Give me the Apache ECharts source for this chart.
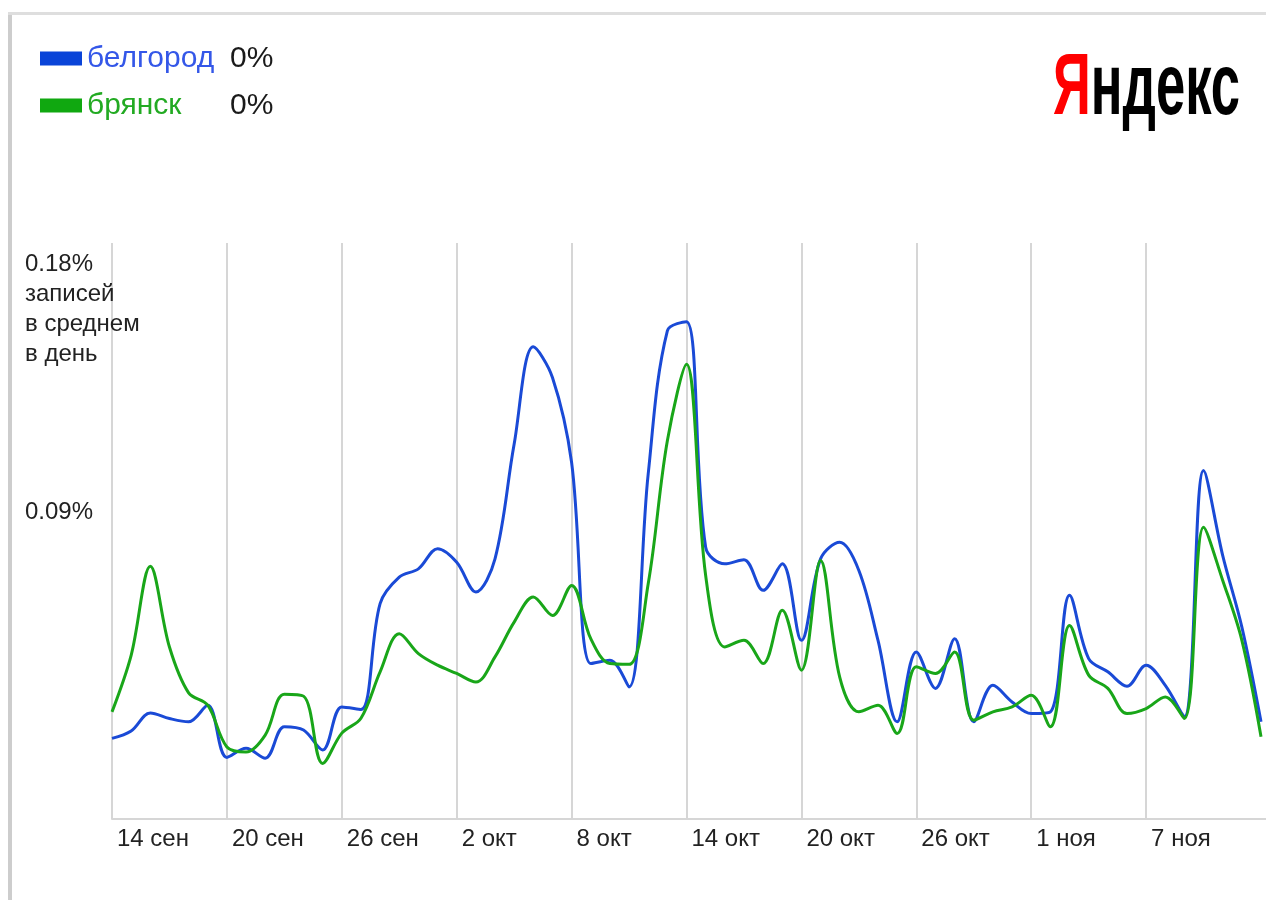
<!DOCTYPE html>
<html>
<head>
<meta charset="utf-8">
<script src="https://cdn.jsdelivr.net/npm/echarts@6/dist/echarts.min.js"></script>
<style>
html,body{margin:0;padding:0;background:#fff;}
#chart{width:1266px;height:900px;}
</style>
</head>
<body>
<div id="chart"></div>
<script>
// Day index 0 = 14 сен ... 60 = 13 ноя
const xTickDays = [0, 6, 12, 18, 24, 30, 36, 42, 48, 54];
const xTickLabels = ['14 сен', '20 сен', '26 сен', '2 окт', '8 окт', '14 окт', '20 окт', '26 окт', '1 ноя', '7 ноя'];
const yTickValues = [0.09, 0.18];
const yTickLabels = ['0.09%', '0.18%\nзаписей\nв среднем\nв день'];
const seriesNames = ['белгород', 'брянск'];
const legendValues = ['0%', '0%'];

const belgorod = [
  0.0028, 0.0055, 0.0120, 0.0100, 0.0088, 0.0148, -0.0041, -0.0008, -0.0044, 0.0070,
  0.0058, -0.0014, 0.0142, 0.0133, 0.0516, 0.0612, 0.0642, 0.0715, 0.0666, 0.0558,
  0.0678, 0.1094, 0.1446, 0.1335, 0.1027, 0.0299, 0.0311, 0.0214, 0.0986, 0.1504,
  0.1537, 0.0720, 0.0660, 0.0675, 0.0564, 0.0660, 0.0383, 0.0678, 0.0738, 0.0636,
  0.0383, 0.0088, 0.0341, 0.0209, 0.0389, 0.0088, 0.0220, 0.0160, 0.0118, 0.0124,
  0.0546, 0.0317, 0.0269, 0.0217, 0.0293, 0.0220, 0.0106, 0.0998, 0.0690, 0.0431,
  0.0088
];
const bryansk = [
  0.0124, 0.0329, 0.0651, 0.0359, 0.0193, 0.0148, -0.0003, -0.0021, 0.0040, 0.0188,
  0.0181, -0.0063, 0.0047, 0.0101, 0.0269, 0.0407, 0.0335, 0.0293, 0.0263, 0.0232,
  0.0323, 0.0449, 0.0540, 0.0473, 0.0582, 0.0389, 0.0299, 0.0296, 0.0588, 0.1106,
  0.1383, 0.0618, 0.0359, 0.0383, 0.0299, 0.0492, 0.0275, 0.0672, 0.0250, 0.0124,
  0.0148, 0.0046, 0.0287, 0.0263, 0.0341, 0.0094, 0.0124, 0.0142, 0.0184, 0.0070,
  0.0437, 0.0257, 0.0209, 0.0118, 0.0136, 0.0178, 0.0100, 0.0793, 0.0600, 0.0383,
  0.0034
];

const BLUE = '#1a4ad6';
const GREEN = '#19a619';
const FONT = '"Liberation Sans", Arial, sans-serif';
const LOGO_FONT = 'bold 88px "Liberation Sans Narrow", "Liberation Sans", Arial, sans-serif';
const LOGO_TEXT = ['Я', 'ндекс'];

// fit logo into its box width
const mctx = document.createElement('canvas').getContext('2d');
mctx.font = LOGO_FONT;
const logoW = mctx.measureText(LOGO_TEXT.join('')).width;
const logoScale = 187 / logoW;

const toPairs = arr => arr.map((v, i) => [i, v]);

const chart = echarts.init(document.getElementById('chart'), null, {renderer: 'canvas'});
chart.setOption({
  animation: false,
  backgroundColor: '#fff',
  grid: {left: 112, right: 0, top: 243, bottom: 81, containLabel: false},
  legend: {
    orient: 'vertical',
    left: 35,
    top: 38,
    itemWidth: 42,
    itemHeight: 14,
    itemGap: 16,
    icon: 'rect',
    selectedMode: false,
    data: seriesNames.map((n, i) => ({name: n, itemStyle: {color: i === 0 ? '#0a44d8' : '#10a810'}})),
    formatter: name => {
      const i = seriesNames.indexOf(name);
      return '{' + (i === 0 ? 'b' : 'g') + '|' + name + '}{p|' + legendValues[i] + '}';
    },
    textStyle: {
      fontFamily: FONT,
      fontSize: 30,
      lineHeight: 31,
      rich: {
        b: {color: '#3457e8', fontSize: 30, fontFamily: FONT, width: 143, lineHeight: 31},
        g: {color: '#22aa22', fontSize: 30, fontFamily: FONT, width: 143, lineHeight: 31},
        p: {color: '#1a1a1a', fontSize: 30, fontFamily: FONT, lineHeight: 31}
      }
    }
  },
  xAxis: {
    type: 'value',
    min: 0,
    max: 60.26,
    axisLine: {show: true, onZero: false, lineStyle: {color: '#d6d6d6', width: 2}},
    axisTick: {show: false, customValues: xTickDays},
    splitLine: {show: true, lineStyle: {color: '#d6d6d6', width: 2}},
    axisLabel: {
      customValues: xTickDays,
      formatter: v => xTickLabels[xTickDays.indexOf(Math.round(v))] || '',
      align: 'left',
      padding: [0, 0, 0, 5],
      margin: 8,
      fontFamily: FONT,
      fontSize: 24,
      color: '#222'
    }
  },
  yAxis: {
    type: 'value',
    min: -0.0264,
    max: 0.1822,
    axisLine: {show: false},
    axisTick: {show: false, customValues: yTickValues},
    splitLine: {show: false},
    axisLabel: {
      customValues: yTickValues,
      formatter: v => {
        const i = yTickValues.findIndex(t => Math.abs(t - v) < 1e-6);
        return i >= 0 ? yTickLabels[i] : '';
      },
      align: 'left',
      verticalAlign: 'top',
      margin: 87,
      lineHeight: 30,
      fontFamily: FONT,
      fontSize: 24,
      color: '#222'
    }
  },
  series: [
    {
      name: seriesNames[0], type: 'line', data: toPairs(belgorod), smooth: 0.35,
      showSymbol: false, symbol: 'none', clip: true,
      lineStyle: {color: BLUE, width: 3}, itemStyle: {color: BLUE}
    },
    {
      name: seriesNames[1], type: 'line', data: toPairs(bryansk), smooth: 0.35,
      showSymbol: false, symbol: 'none', clip: true,
      lineStyle: {color: GREEN, width: 3}, itemStyle: {color: GREEN}
    }
  ],
  graphic: [
    {type: 'rect', shape: {x: 8, y: 12, width: 4, height: 888}, style: {fill: '#cdcdcd'}, silent: true},
    {type: 'rect', shape: {x: 8, y: 12, width: 1258, height: 3}, style: {fill: '#dedede'}, silent: true},
    {
      type: 'text', x: 1053, y: 90, scaleX: logoScale, silent: true,
      style: {
        text: '{r|' + LOGO_TEXT[0] + '}{k|' + LOGO_TEXT[1] + '}',
        font: LOGO_FONT,
        verticalAlign: 'middle',
        align: 'left',
        rich: {
          r: {fill: '#ff0000', font: LOGO_FONT},
          k: {fill: '#000000', font: LOGO_FONT}
        }
      }
    }
  ]
});
</script>
</body>
</html>
